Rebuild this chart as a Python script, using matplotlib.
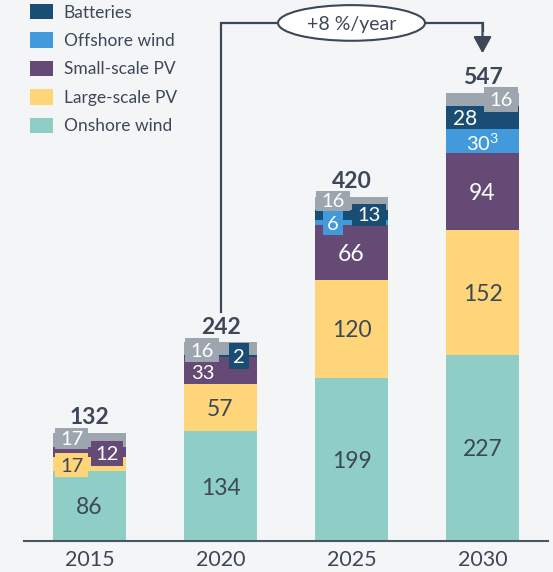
import matplotlib
matplotlib.use('Agg')
import matplotlib.pyplot as plt
from matplotlib.path import Path
from matplotlib.patches import Ellipse

# ---------------- data ----------------
years = ['2015', '2020', '2025', '2030']
onshore = [86, 134, 199, 227]
large_pv = [17, 57, 120, 152]
small_pv = [12, 33, 66, 94]
offshore = [0, 1, 6, 30]
batteries = [0, 2, 13, 28]
other = [17, 16, 16, 16]
totals = [132, 242, 420, 547]
series_names = ['Onshore wind', 'Large-scale PV', 'Small-scale PV',
                'Offshore wind', 'Batteries', 'Other']
growth_label = '+8 %/year'
offshore_2030_label = r'$\mathregular{30^{3}}$'

# ---------------- style ----------------
BG = '#F4F5F7'
DARK = '#3C4858'
WHITE = '#FFFFFF'
colors = ['#8FCDC7', '#FFD57A', '#644A74', '#4299DC', '#1A4D74', '#9DA5AE']
plt.rcParams['font.family'] = ['Lato', 'DejaVu Sans']
plt.rcParams['mathtext.fontset'] = 'custom'
plt.rcParams['mathtext.rm'] = 'Lato'
plt.rcParams['mathtext.it'] = 'Lato:italic'
plt.rcParams['mathtext.bf'] = 'Lato:bold'

fig = plt.figure(figsize=(5.53, 5.72), dpi=100, facecolor=BG)
ax = fig.add_axes([24 / 553, 31 / 572, 524 / 553, 541 / 572])
ax.set_facecolor(BG)
ax.set_xlim(-0.5, 3.5)
ax.set_ylim(0, 660)

series = [onshore, large_pv, small_pv, offshore, batteries, other]
x = list(range(len(years)))
bottoms = [0] * len(years)
containers = []
starts = []
for vals, c in zip(series, colors):
    starts.append(list(bottoms))
    b = ax.bar(x, vals, width=0.557, bottom=bottoms, color=c,
               edgecolor='none', zorder=2)
    containers.append(b)
    bottoms = [bb + v for bb, v in zip(bottoms, vals)]


def seg_center(s, i):
    return starts[s][i] + series[s][i] / 2


def make_box(W, H):
    def style(x0, y0, w, h, mutation_size):
        cx = x0 + w / 2
        cy = y0 + h - 0.37 * mutation_size
        l, r = cx - W / 2, cx + W / 2
        btm, top = cy - H / 2, cy + H / 2
        return Path([(l, btm), (r, btm), (r, top), (l, top), (l, btm)],
                    [Path.MOVETO, Path.LINETO, Path.LINETO, Path.LINETO,
                     Path.CLOSEPOLY])
    return style


def label(s, i, text=None, dx=0, dy=0, size=16.5, color=DARK, box=None):
    if text is None:
        text = f'{series[s][i]:g}'
    kw = {}
    if box is not None:
        kw['bbox'] = dict(boxstyle=make_box(*box), fc=colors[s], ec='none')
    ax.annotate(text, xy=(i, seg_center(s, i)), xytext=(dx, dy),
                textcoords='offset pixels', ha='center',
                va='center_baseline', fontsize=size, color=color,
                zorder=6, **kw)


# main labels
for i in range(4):
    label(0, i)
for i in (1, 2, 3):
    label(1, i)
for i in (2, 3):
    label(2, i, color=WHITE)

# small / offset labels
label(5, 0, dx=-18, dy=2, size=14.5, color=WHITE, box=(33, 21))
label(2, 0, dx=17.5, dy=-1, size=14.5, color=WHITE, box=(32, 25))
label(1, 0, dx=-18, dy=-1.5, size=14.5, color=DARK, box=(33, 24))

label(5, 1, dx=-18.5, dy=-1.5, size=14.5, color=WHITE, box=(34, 24))
label(4, 1, dx=18.5, dy=0, size=14.5, color=WHITE, box=(20, 26))
label(2, 1, dx=-17.5, dy=-1, size=14.5, color=WHITE)

label(5, 2, dx=-18.5, dy=3, size=14.5, color=WHITE, box=(34, 20))
label(3, 2, dx=-19, dy=0, size=14.5, color=WHITE, box=(20, 24))
label(4, 2, dx=17.5, dy=1, size=14.5, color=WHITE, box=(34, 22))

label(5, 3, dx=18.5, dy=0, size=14.5, color=WHITE, box=(34, 25))
label(4, 3, dx=-17.5, dy=0, size=15, color=WHITE)
label(3, 3, text=offshore_2030_label, dx=0, dy=-1, size=14.5, color=WHITE)

# totals
for i, t in enumerate(totals):
    ax.annotate(f'{t}', xy=(i, t), xytext=(0, 17.5), textcoords='offset pixels',
                ha='center', va='center_baseline', fontsize=16.5,
                fontweight='bold', color=DARK, zorder=6)

# growth arrow
y_line = 632
ax.plot([1, 1, 3, 3], [totals[1] + 37, y_line, y_line, y_line - 10],
        color=DARK, lw=1.6, solid_joinstyle='miter', zorder=3, clip_on=False)
ax.annotate('', xy=(3, totals[3] + 48), xytext=(3, y_line),
            arrowprops=dict(arrowstyle='-|>,head_length=1.0,head_width=0.55',
                            color=DARK, lw=1.6, shrinkA=0, shrinkB=0),
            zorder=3)
ax.add_patch(Ellipse((2, y_line), width=1.122, height=43.5, fc='white',
                     ec=DARK, lw=1.5, zorder=4, clip_on=False))
ax.text(2, y_line, growth_label, ha='center', va='center_baseline',
        fontsize=14, color=DARK, zorder=5)

# axes styling
for sp in ('top', 'left', 'right'):
    ax.spines[sp].set_visible(False)
ax.spines['bottom'].set_color('#4A5563')
ax.spines['bottom'].set_linewidth(1.5)
ax.set_yticks([])
ax.set_xticks(x, years)
ax.tick_params(axis='x', length=0, pad=6.5, labelsize=15.5, labelcolor=DARK)

# legend
handles = [containers[k] for k in (4, 3, 2, 1, 0)]
labels = [series_names[k] for k in (4, 3, 2, 1, 0)]
ax.legend(handles, labels, loc='upper left',
          bbox_to_anchor=(30 / 553, 1 - 4 / 572), bbox_transform=fig.transFigure,
          frameon=False, borderpad=0, borderaxespad=0, fontsize=12.5,
          handlelength=1.33, handleheight=0.98, handletextpad=0.62,
          labelspacing=0.68, labelcolor=DARK)

fig.savefig('out.png', dpi=100, facecolor=BG)
